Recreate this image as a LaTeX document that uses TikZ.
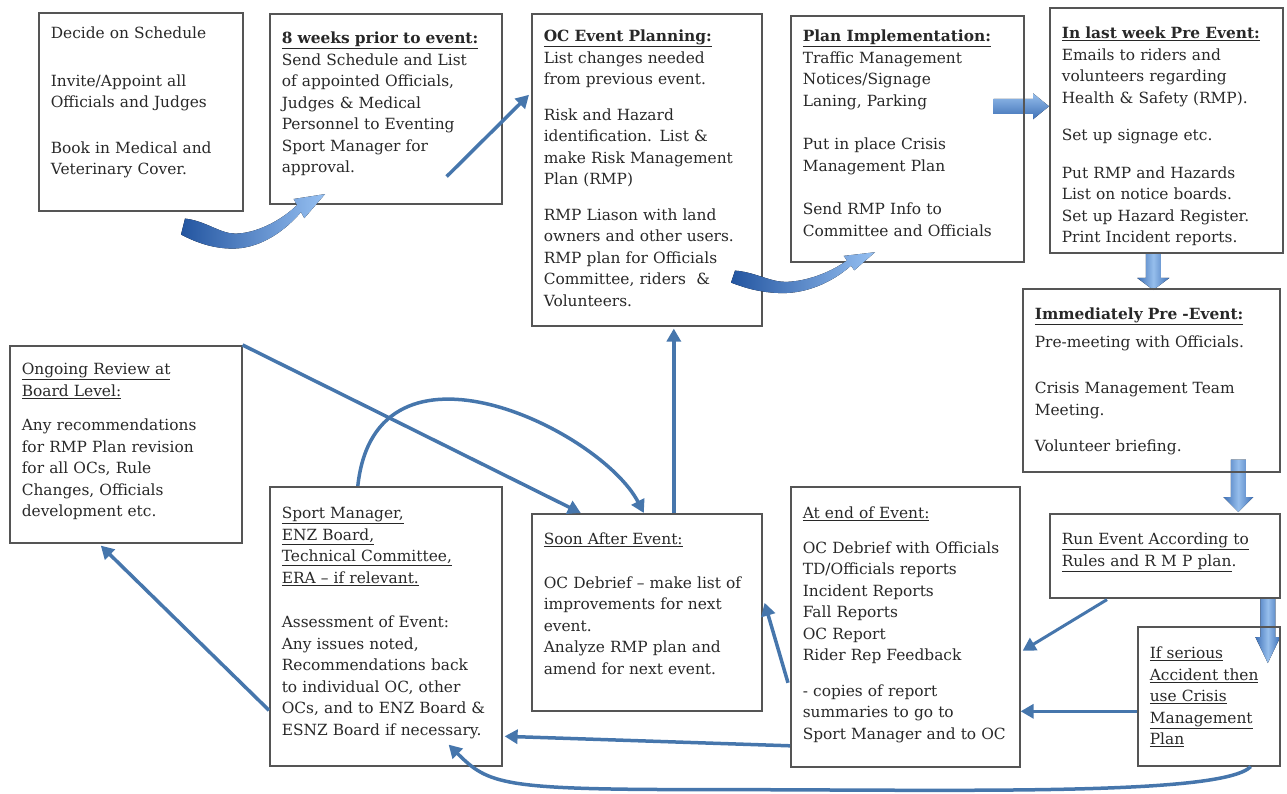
\documentclass[tikz,border=0pt]{standalone}
\usepackage{fontspec}
\setmainfont{DejaVu Serif}
\usetikzlibrary{arrows.meta,calc,backgrounds}

\newcommand\stagefont{\fontsize{15.4}{21.5}\selectfont}

\tikzset{
  stage/.style n args={3}{draw=boxGrey,line width=1.6pt,anchor=north west,
    align=left,inner xsep=12pt,inner ysep=0pt,font=\stagefont,text=textGrey,
    text width=#1,text height=#2,text depth=#3},
  flow/.style={draw=flowBlue,line width=3.5pt,-{Triangle[width=14pt,length=13pt]}},
  swoosh/.pic={
    \fill[left color=swooshDark,right color=swooshLight]
      (-4,8) -- (0,-8) .. controls (20,-6) and (35,7) .. (50,7)
      .. controls (70,7) and (95,-5) .. (112,-21.5)
      -- (108.7,-27.6) -- (140,-32.5) -- (119.3,-8.4) -- (116,-14.5)
      .. controls (95,10) and (70,22) .. (48,22)
      .. controls (25,22) and (8,14) .. (-4,8) -- cycle;
  }
}

\begin{document}
\begin{tikzpicture}[x=1pt,y=-1pt]
  \definecolor{boxGrey}{RGB}{85,85,85}
  \definecolor{textGrey}{RGB}{40,40,40}
  \definecolor{flowBlue}{RGB}{70,118,172}
  \definecolor{blockDark}{RGB}{62,112,182}
  \definecolor{blockLight}{RGB}{150,190,236}
  \definecolor{swooshDark}{RGB}{35,85,160}
  \definecolor{swooshLight}{RGB}{150,192,242}

  \useasboundingbox (0,0) rectangle (1287,794);

  % Stages - top row
  \node[stage={180pt}{26pt}{172pt}] (decide) at (38,12)
    {Decide on Schedule\\[26pt]
     Invite/Appoint all\\ Officials and Judges\\[24pt]
     Book in Medical and\\ Veterinary Cover.};
  \node[stage={208pt}{30pt}{160pt}] (eightwk) at (269,13)
    {\underline{\textbf{8 weeks prior to event:}}\\
     Send Schedule and List\\ of appointed Officials,\\ Judges \& Medical\\
     Personnel to Eventing\\ Sport Manager for\\ approval.};
  \node[stage={206pt}{28pt}{284pt}] (planning) at (531,13)
    {\underline{\textbf{OC Event Planning:}}\\
     List changes needed\\ from previous event.\\[14pt]
     Risk and Hazard\\ identification. List \&\\ make Risk Management\\ Plan (RMP)\\[14pt]
     RMP Liason with land\\ owners and other users.\\ RMP plan for Officials\\
     Committee, riders~ \&\\ Volunteers.};
  \node[stage={209pt}{26pt}{220pt}] (implement) at (790,15)
    {\underline{\textbf{Plan Implementation:}}\\
     Traffic Management\\ Notices/Signage\\ Laning, Parking\\[22pt]
     Put in place Crisis\\ Management Plan\\[22pt]
     Send RMP Info to\\ Committee and Officials};
  \node[stage={209pt}{31pt}{214pt}] (lastweek) at (1049,7)
    {\underline{\textbf{In last week Pre Event:}}\\
     Emails to riders and\\ volunteers regarding\\ Health \& Safety (RMP).\\[16pt]
     Set up signage etc.\\[16pt]
     Put RMP and Hazards\\ List on notice boards.\\ Set up Hazard Register.\\
     Print Incident reports.};

  % Stages - right column
  \node[stage={233pt}{31pt}{152pt}] (immediate) at (1022,288)
    {\underline{\textbf{Immediately Pre -Event:}}\\[6pt]
     Pre-meeting with Officials.\\[25pt]
     Crisis Management Team\\ Meeting.\\[15pt]
     Volunteer briefing.};
  \node[stage={206pt}{31pt}{53pt}] (runevent) at (1049,513)
    {\underline{Run Event According to}\\ \underline{Rules and R M P plan}.};
  \node[stage={118pt}{32pt}{107pt}] (accident) at (1137,626)
    {\underline{If serious}\\ \underline{Accident then}\\ \underline{use Crisis}\\
     \underline{Management}\\ \underline{Plan}};

  % Stages - bottom row
  \node[stage={205pt}{32pt}{248pt}] (endevent) at (790,486)
    {\underline{At end of Event:}\\[13pt]
     OC Debrief with Officials\\ TD/Officials reports\\ Incident Reports\\
     Fall Reports\\ OC Report\\ Rider Rep Feedback\\[14pt]
     - copies of report\\ summaries to go to\\ Sport Manager and to OC};
  \node[stage={206pt}{31pt}{166pt}] (soonafter) at (531,513)
    {\underline{Soon After Event:}\\[22pt]
     OC Debrief -- make list of\\ improvements for next\\ event.\\
     Analyze RMP plan and\\ amend for next event.};
  \node[stage={208pt}{32pt}{247pt}] (sportmgr) at (269,486)
    {\underline{Sport Manager,}\\ \underline{ENZ Board,}\\
     \underline{Technical Committee,}\\ \underline{ERA -- if relevant.}\\[23pt]
     Assessment of Event:\\ Any issues noted,\\ Recommendations back\\
     to individual OC, other\\ OCs, and to ENZ Board \&\\ ESNZ Board if necessary.};
  \node[stage={208pt}{29pt}{168pt}] (review) at (9,345)
    {\underline{Ongoing Review at}\\ \underline{Board Level:}\\[13pt]
     Any recommendations\\ for RMP Plan revision\\ for all OCs, Rule\\
     Changes, Officials\\ development etc.};

  % block arrows
  \coordinate (b1t) at ($(implement.east)+(-31,-32.5)$);
  \coordinate (b1h) at ($(lastweek.west)+(0,-24)$);
  \coordinate (b2t) at ($(lastweek.south)+(-13,0)$);
  \coordinate (b2h) at ($(immediate.north)+(2,2)$);
  \coordinate (b3t) at ($(immediate.south)+(87,-13)$);
  \coordinate (b3h) at ($(runevent.north)+(73.5,-1)$);
  \coordinate (b4t) at ($(runevent.south)+(103,0)$);
  \coordinate (b4h) at ($(accident.north)+(59,37)$);
  \begin{pgfonlayer}{background}
    \fill[top color=blockLight,bottom color=blockDark]
      ($(b1t)+(0,-7.5)$) -- ($(b1h)+(-16,-7.5)$) -- ($(b1h)+(-16,-13)$) -- (b1h)
      -- ($(b1h)+(-16,13)$) -- ($(b1h)+(-16,7.5)$) -- ($(b1t)+(0,7.5)$) -- cycle;
    \foreach \t/\h/\w/\l in {b2t/b2h/16/12, b3t/b3h/15/15, b4t/b4h/12.5/26}
    {
      \fill[left color=blockDark,right color=blockDark,middle color=blockLight]
        ($(\t)+(-7.5,0)$) -- ($(\t)+(7.5,0)$) -- ($(\h)+(7.5,-\l)$) -- ($(\h)+(\w,-\l)$)
        -- (\h) -- ($(\h)+(-\w,-\l)$) -- ($(\h)+(-7.5,-\l)$) -- cycle;
    }
  \end{pgfonlayer}

  % swooshes
  \pic at ($(eightwk.south west)+(-84,22)$) {swoosh};
  \pic[yscale=0.75] at ($(implement.south west)+(-55,14)$) {swoosh};

  % flow arrows
  \draw[flow] ($(eightwk.south east)+(-56,-28)$) -- ($(planning.west)+(-2,-75)$);
  \draw[flow] ($(soonafter.north)+(27,0)$) -- ($(planning.south)+(27,2)$);
  \draw[flow] (review.north east) -- ($(soonafter.north)+(-66,0)$);
  \draw[flow] ($(sportmgr.north)+(-28,0)$) .. controls +(18,-166) and +(-43,-83)
    .. ($(soonafter.north)+(-3,0)$);
  \draw[flow] ($(endevent.west)+(-2,56)$) -- ($(soonafter.east)+(2,-9.5)$);
  \draw[flow] ($(endevent.west)+(0,119)$) -- ($(sportmgr.east)+(2,110)$);
  \coordinate (crisis) at ($(accident.west)+(0,15)$);
  \draw[flow] (crisis) -- (crisis -| endevent.east);
  \draw[flow,line width=3pt] ($(runevent.south west)+(58,1)$) -- ($(endevent.east)+(2,24)$);
  \coordinate (bend) at ($(sportmgr.south east)+(199,23)$);
  \draw[flow] ($(accident.south)+(42,0)$) .. controls +(-30,30) and +(250,0) .. (bend)
    .. controls +(-200,0) and +(40,40) .. ($(sportmgr.south east)+(-54,-22)$);
  \draw[flow] ($(sportmgr.west)+(0,84)$) -- ($(review.south)+(-25,2)$);

\end{tikzpicture}
\end{document}
